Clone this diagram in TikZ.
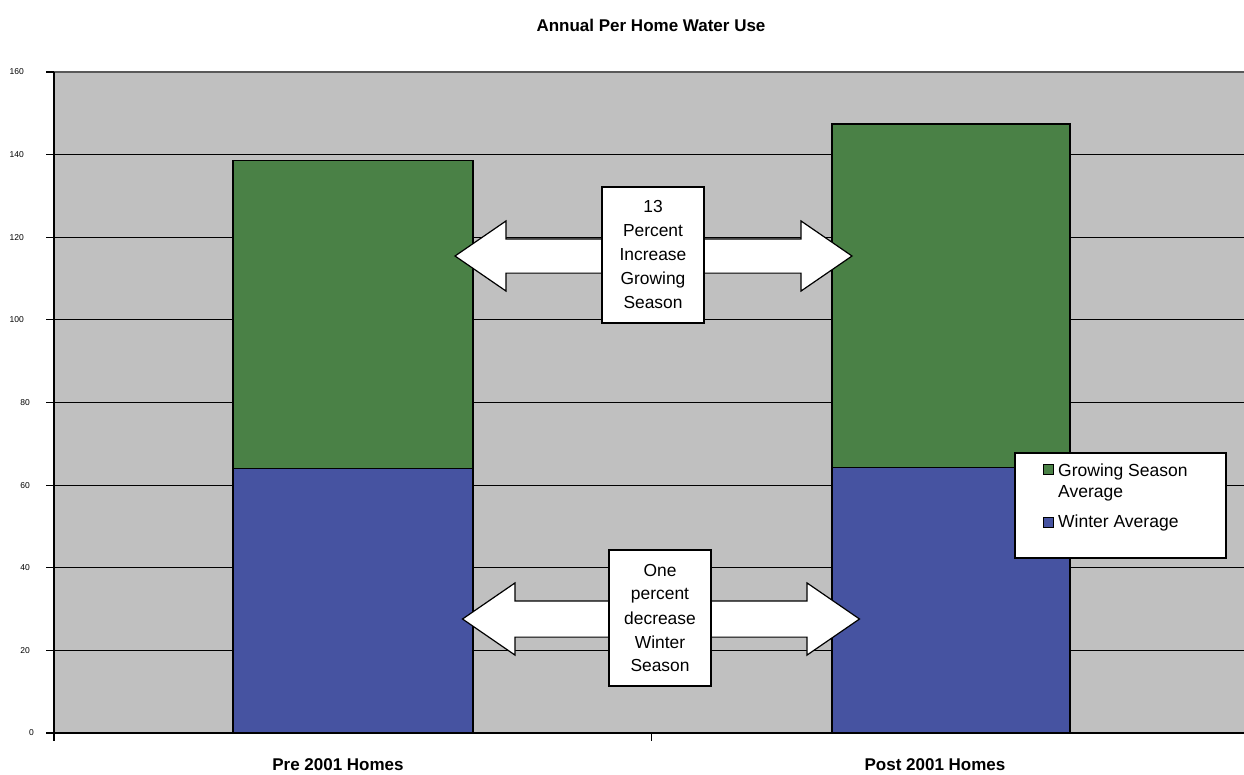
\documentclass[tikz,border=0pt]{standalone}
\usepackage{fontspec}
\setmainfont{Liberation Sans}
\usetikzlibrary{shapes.arrows}
\definecolor{growgreen}{HTML}{4A8146}
\definecolor{winterblue}{HTML}{4653A1}
\definecolor{plotgray}{HTML}{C0C0C0}
\begin{document}
\begin{tikzpicture}[x=1pt,y=-1pt,
    declare function={yv(\v)=733-4.13125*\v;},
    gridline/.style={line width=0.9pt},
    barline/.style={draw=black, line width=1.2pt},
    ticklabel/.style={anchor=east, inner sep=0pt, font=\fontsize{8.5}{10}\selectfont},
    catlabel/.style={font=\bfseries\fontsize{17}{19}\selectfont},
    bigarrow/.style={draw, line width=1.2pt, fill=white, double arrow, double arrow head extend=18pt,
        double arrow tip angle=69, minimum height=397pt, inner sep=0pt},
    notebox/.style={draw, line width=1.2pt, fill=white, text width=102pt, align=center,
        minimum height=136pt, inner sep=0pt, font=\fontsize{17.4}{24}\selectfont},
    legtext/.style={anchor=west, align=left, inner sep=0pt, font=\fontsize{17.5}{21}\selectfont}]
    \useasboundingbox (0,0) rectangle (1244,774);

    % Title
    \node[font=\bfseries\fontsize{17}{19}\selectfont] (title) at (651,25) {Annual Per Home Water Use};

    % Plot area
    \fill[plotgray] (54,72) rectangle (1244,733);
    \draw[gray!70!black, line width=1.2pt] (54,72) -- (1244,72);
    \foreach \v in {20,40,...,140} {
        \draw[gridline] (54,{yv(\v)}) -- (1244,{yv(\v)});
    }

    % Axis ticks and labels
    \foreach \v in {0,20,...,160} {
        \draw[line width=1.2pt] (46,{yv(\v)}) -- (54,{yv(\v)});
        \ifnum \v>99
            \node[ticklabel] (tick\v) at (24,{yv(\v)}) {\v};
        \else
            \ifnum \v>9
                \node[ticklabel] (tick\v) at (30,{yv(\v)}) {\v};
            \else
                \node[ticklabel] (tick\v) at (34,{yv(\v)}) {\v};
            \fi
        \fi
    }

    % Bars
    \draw[barline, fill=winterblue] (233,733) rectangle (473,{yv(64)});
    \draw[barline, fill=growgreen] (233,{yv(64)}) rectangle (473,{yv(138.5)});
    \draw[barline, fill=winterblue] (832,733) rectangle (1070,{yv(64.3)});
    \draw[barline, fill=growgreen] (832,{yv(64.3)}) rectangle (1070,{yv(147.4)});

    % Axes
    \draw[line width=1.4pt] (54,72) -- (54,741);
    \draw[line width=1.4pt] (54,733) -- (1244,733);
    \draw[line width=1pt] (651,733) -- (651,741);
    \node[catlabel] (pre) at (338,765) {Pre 2001 Homes};
    \node[catlabel] (post) at (935,765) {Post 2001 Homes};

    % Arrows with notes
    \node[bigarrow] (growarrow) at (653.5,256) {\rule{0pt}{33pt}};
    \node[notebox] (grownote) at (653,255) {13\\Percent\\Increase\\Growing\\Season};
    \node[bigarrow] (winterarrow) at (661,619) {\rule{0pt}{35pt}};
    \node[notebox] (winternote) at (660,618) {One\\percent\\decrease\\Winter\\Season};

    % Legend
    \node[draw, line width=1.2pt, fill=white, minimum width=211pt, minimum height=105pt] (legend) at (1120.5,505.5) {};
    \draw[line width=0.8pt, fill=growgreen] (1043,464) rectangle (1053,474);
    \node[legtext] (leggrow) at (1058,482) {Growing Season\\Average};
    \draw[line width=0.8pt, fill=winterblue] (1043,517) rectangle (1053,527);
    \node[legtext] (legwinter) at (1058,523) {Winter Average};
\end{tikzpicture}
\end{document}
